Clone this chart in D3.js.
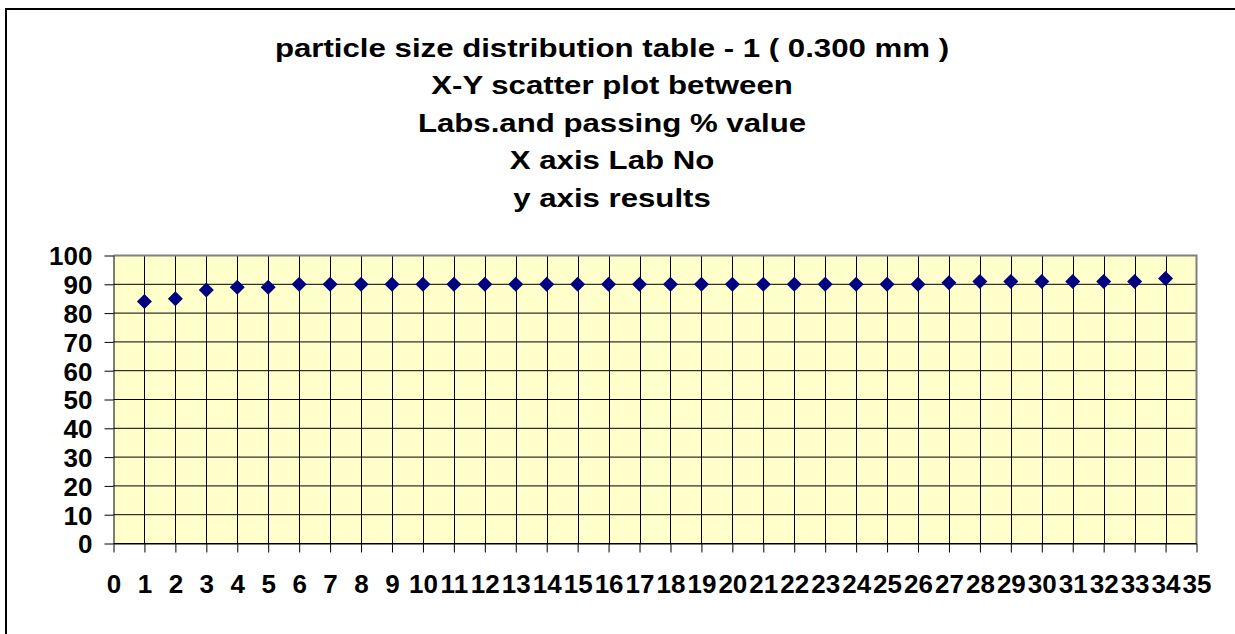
<!DOCTYPE html>
<html>
<head>
<meta charset="utf-8">
<title>particle size distribution scatter</title>
<style>
  body { margin: 0; background: #fff; }
  svg { display: block; font-family: "Liberation Sans", Arial, sans-serif; font-weight: bold; }
</style>
</head>
<body>
<svg id="chart" width="1235" height="634"></svg>
<script src="https://cdnjs.cloudflare.com/ajax/libs/d3/7.8.5/d3.min.js"></script>
<script>
// lab numbers and passing % values
var labs = [1, 2, 3, 4, 5, 6, 7, 8, 9, 10, 11, 12, 13, 14, 15, 16, 17,
            18, 19, 20, 21, 22, 23, 24, 25, 26, 27, 28, 29, 30, 31, 32, 33, 34];
var passing = [84, 85, 88, 89, 89, 90, 90, 90, 90, 90, 90, 90, 90, 90, 90, 90, 90,
               90, 90, 90, 90, 90, 90, 90, 90, 90, 90.5, 91, 91, 91, 91, 91, 91, 92];
var xTicks = d3.range(0, 36);
var yTicks = [0, 10, 20, 30, 40, 50, 60, 70, 80, 90, 100];
var titleLines = [
  "particle size distribution table - 1 ( 0.300 mm )",
  "X-Y scatter plot between",
  "Labs.and passing % value",
  "X axis Lab No",
  "y axis results"
];

var svg = d3.select("#chart");

// outer chart frame
svg.append("rect")
    .attr("x", 6).attr("y", 9)
    .attr("width", 1260).attr("height", 660)
    .attr("fill", "none")
    .attr("stroke", "#000")
    .attr("stroke-width", 2);

var x = d3.scaleLinear().domain([0, 35]).range([113.5, 1196.5]);
var y = d3.scaleLinear().domain([0, 100]).range([543.5, 255.5]);

// plot area
svg.append("rect")
    .attr("x", x(0)).attr("y", y(100))
    .attr("width", x(35) - x(0)).attr("height", y(0) - y(100))
    .attr("fill", "#ffffcc");

// grid
svg.append("g").selectAll("line")
    .data(yTicks).enter().append("line")
    .attr("x1", x(0)).attr("x2", x(35))
    .attr("y1", function(d) { return y(d); })
    .attr("y2", function(d) { return y(d); })
    .attr("stroke", "#000").attr("stroke-width", 1);

svg.append("g").selectAll("line")
    .data(xTicks.slice(1, 35)).enter().append("line")
    .attr("x1", function(d) { return Math.round(x(d)) + 0.5; })
    .attr("x2", function(d) { return Math.round(x(d)) + 0.5; })
    .attr("y1", y(100)).attr("y2", y(0))
    .attr("stroke", "#000").attr("stroke-width", 1);

// plot area border (grey top/right)
svg.append("path")
    .attr("d", "M" + x(0) + "," + y(100) + "H" + x(35) + "V" + y(0))
    .attr("fill", "none")
    .attr("stroke", "#808080")
    .attr("stroke-width", 2);

// axes
var yAxis = svg.append("g")
    .attr("transform", "translate(" + x(0) + ",0)")
    .call(d3.axisLeft(y).tickValues(yTicks).tickSize(9).tickSizeOuter(0).tickPadding(12));

var xAxis = svg.append("g")
    .attr("transform", "translate(0," + y(0) + ")")
    .call(d3.axisBottom(x).tickValues(xTicks).tickSize(9).tickSizeOuter(0).tickPadding(22));

[yAxis, xAxis].forEach(function(a) {
  a.select(".domain").attr("stroke", "#000").attr("stroke-width", 1);
  a.selectAll(".tick line").attr("stroke", "#000");
  a.selectAll(".tick text")
    .attr("fill", "#000")
    .style("font-family", "'Liberation Sans', Arial, sans-serif")
    .style("font-weight", "bold")
    .style("font-size", "26px");
});
yAxis.selectAll(".tick text").attr("dy", "0.36em");

// points
var pts = labs.map(function(d, i) { return [d, passing[i]]; });
svg.append("g").selectAll("path")
    .data(pts).enter().append("path")
    .attr("d", "M0,-7.5L7.5,0L0,7.5L-7.5,0Z")
    .attr("transform", function(d) { return "translate(" + x(d[0]) + "," + y(d[1]) + ")"; })
    .attr("fill", "#000080");

// title (the original is rendered a bit wide, so stretch it horizontally)
svg.append("g")
    .attr("transform", "translate(612,0) scale(1.2,1)")
  .selectAll("text")
    .data(titleLines).enter().append("text")
    .attr("x", 0)
    .attr("y", function(d, i) { return 57 + i * 37.5; })
    .attr("text-anchor", "middle")
    .style("font-size", "26px")
    .attr("fill", "#000")
    .text(function(d) { return d; });
</script>
</body>
</html>
